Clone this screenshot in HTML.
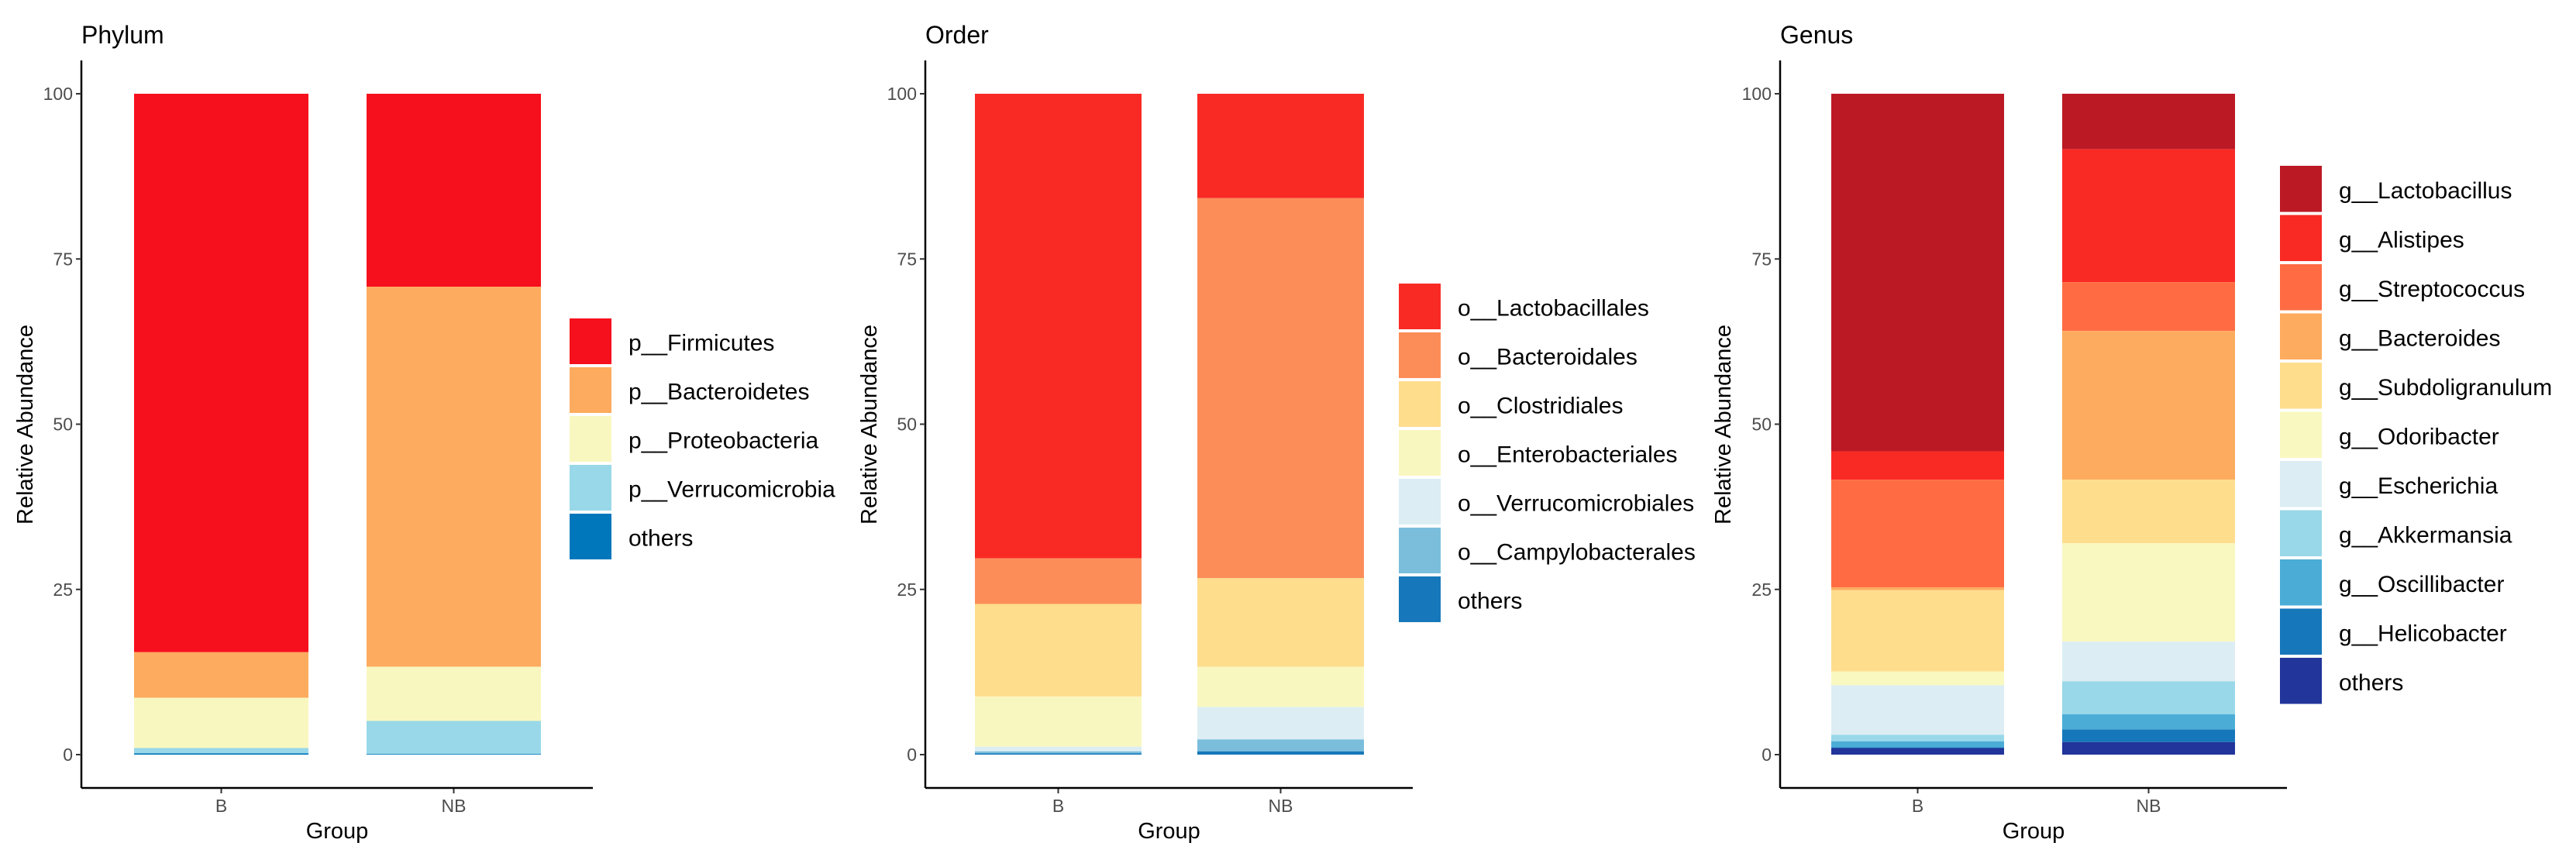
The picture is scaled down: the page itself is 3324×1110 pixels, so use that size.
<!DOCTYPE html>
<html><head><meta charset="utf-8"><style>
html,body{margin:0;padding:0;background:#fff;}
svg{display:block;font-family:"Liberation Sans",Arial,sans-serif;}
</style></head><body>
<svg id="chart" width="3324" height="1110" viewBox="0 0 3324 1110" xmlns="http://www.w3.org/2000/svg"></svg>
<script>
const groups = ["B", "NB"];
const yTicks = [0, 25, 50, 75, 100];

const phylumTaxa = ["p__Firmicutes","p__Bacteroidetes","p__Proteobacteria","p__Verrucomicrobia","others"];
const phylumColors = ["#F60F1C","#FDAB5E","#F9F7C0","#99D8E8","#0077BB"];
const phylumB = [84.5, 6.9, 7.6, 0.8, 0.2];
const phylumNB = [29.2, 57.5, 8.2, 5.0, 0.1];

const orderTaxa = ["o__Lactobacillales","o__Bacteroidales","o__Clostridiales","o__Enterobacteriales","o__Verrucomicrobiales","o__Campylobacterales","others"];
const orderColors = ["#F92A24","#FC8D59","#FEDD8D","#F9F7C0","#DCEEF4","#7BBEDC","#1677BA"];
const orderB = [70.3, 6.9, 14.0, 7.6, 0.7, 0.3, 0.2];
const orderNB = [15.8, 57.5, 13.4, 6.1, 4.9, 1.8, 0.5];

const genusTaxa = ["g__Lactobacillus","g__Alistipes","g__Streptococcus","g__Bacteroides","g__Subdoligranulum","g__Odoribacter","g__Escherichia","g__Akkermansia","g__Oscillibacter","g__Helicobacter","others"];
const genusColors = ["#BB1924","#F92A24","#FF6C43","#FDAB5E","#FEDD8D","#F9F8C0","#DCEEF4","#99D8E8","#4BADD6","#1677BA","#21359A"];
const genusB = [54.1, 4.3, 16.3, 0.4, 12.3, 2.1, 7.5, 1.0, 0.9, 0.1, 1.0];
const genusNB = [8.4, 20.1, 7.4, 22.5, 9.6, 14.9, 6.0, 5.0, 2.3, 1.9, 1.9];

const NS = "http://www.w3.org/2000/svg";
const svg = document.getElementById("chart");
function mk(tag, attrs, parent, text){
  const e = document.createElementNS(NS, tag);
  for (const k in attrs) e.setAttribute(k, attrs[k]);
  if (text !== undefined) e.textContent = text;
  (parent || svg).appendChild(e);
  return e;
}

const panels = [
  {key:"phylum", title:"Phylum", taxa:phylumTaxa, colors:phylumColors, series:[phylumB, phylumNB],
   axisX:105, axisEnd:765, bars:[[173,398],[473,698]], legX:735, legY:411, pitch:63, ytitleX:32},
  {key:"order", title:"Order", taxa:orderTaxa, colors:orderColors, series:[orderB, orderNB],
   axisX:1194, axisEnd:1823, bars:[[1258,1473],[1545,1760]], legX:1805, legY:366, pitch:63, ytitleX:1121},
  {key:"genus", title:"Genus", taxa:genusTaxa, colors:genusColors, series:[genusB, genusNB],
   axisX:2297, axisEnd:2951, bars:[[2363,2586],[2661,2884]], legX:2942, legY:214, pitch:63.5, ytitleX:2223}
];

const y0 = 974, y100 = 121, axisTop = 78, axisBottom = 1017;
function yScale(v){ return y0 + (y100 - y0) * v / 100; }

panels.forEach(p => {
  const g = mk("g", {});
  
  

  const t = mk("text", {x:p.axisX, y:56, "font-size":32, fill:"#000"}, g, p.title);
  
  

  groups.forEach((grp, gi) => {
    const vals = p.series[gi];
    let cum = 0;
    vals.forEach((v, i) => {
      const top = 100 - cum;
      const bot = 100 - cum - v;
      cum += v;
      const r = mk("rect", {x:p.bars[gi][0], y:yScale(top), width:p.bars[gi][1]-p.bars[gi][0],
        height:Math.max(0, yScale(bot)-yScale(top)), fill:p.colors[i]}, g);
      
      
    });
    const cx = (p.bars[gi][0] + p.bars[gi][1]) / 2;
    const xl = mk("text", {x:cx, y:1048, "font-size":23, fill:"#4D4D4D", "text-anchor":"middle"}, g, grp);
    
    
    mk("line", {x1:cx, x2:cx, y1:axisBottom, y2:axisBottom+7, stroke:"#333", "stroke-width":2}, g);
  });

  const ya = mk("line", {x1:p.axisX, x2:p.axisX, y1:axisTop, y2:axisBottom, stroke:"#000", "stroke-width":2.5}, g);
  
  
  const xa = mk("line", {x1:p.axisX, x2:p.axisEnd, y1:axisBottom, y2:axisBottom, stroke:"#000", "stroke-width":2.5}, g);
  
  

  yTicks.forEach(v => {
    mk("line", {x1:p.axisX-7, x2:p.axisX, y1:yScale(v), y2:yScale(v), stroke:"#333", "stroke-width":2}, g);
    const tl = mk("text", {x:p.axisX-11, y:yScale(v)+8, "font-size":23, fill:"#4D4D4D", "text-anchor":"end"}, g, String(v));
    
    
  });

  const xt = mk("text", {x:(p.axisX+p.axisEnd)/2, y:1082, "font-size":29, fill:"#000", "text-anchor":"middle"}, g, "Group");
  
  
  const yt = mk("text", {x:0, y:0, "font-size":29, fill:"#000", "text-anchor":"middle",
    transform:"translate(" + (p.ytitleX+10) + ",548) rotate(-90)"}, g, "Relative Abundance");
  
  

  p.taxa.forEach((name, i) => {
    const ly = p.legY + i * p.pitch;
    const lg = mk("g", {}, g);
    
    
    mk("rect", {x:p.legX, y:ly, width:54, height:p.pitch-4, fill:p.colors[i]}, lg);
    mk("text", {x:p.legX+76, y:ly+p.pitch/2+10, "font-size":30, fill:"#000"}, lg, name);
  });
});
</script>
</body></html>
